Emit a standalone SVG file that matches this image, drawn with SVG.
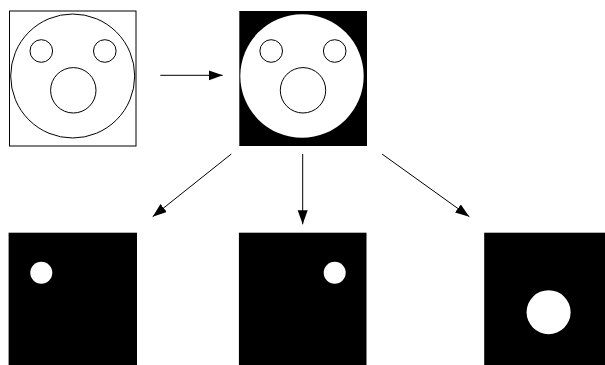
<svg xmlns="http://www.w3.org/2000/svg" width="605" height="365" viewBox="0 0 605 365">
  <style>
    .frame { fill: #ffffff; stroke: #000000; stroke-width: 1; }
    .outline { fill: none; stroke: #000000; stroke-width: 1; }
    .mask { fill: #000000; }
    .hole { fill: #ffffff; }
    .conn { stroke: #000000; stroke-width: 1; fill: none; marker-end: url(#head); }
  </style>
  <defs>
    <marker id="head" markerUnits="userSpaceOnUse" markerWidth="16" markerHeight="12" refX="14" refY="5" orient="auto">
      <path d="M0,0 L14,5 L0,10 Z" fill="#000000"/>
    </marker>
  </defs>

  <!-- source drawing: face outline -->
  <g id="source" transform="translate(9.5,11)">
    <rect class="frame" x="0" y="0" width="126.5" height="135"/>
    <circle class="outline" cx="63.2" cy="65" r="62"/>
    <circle class="outline" cx="31.8" cy="40" r="11.3"/>
    <circle class="outline" cx="95.3" cy="40" r="11.3"/>
    <circle class="outline" cx="63.8" cy="79.3" r="22.7"/>
  </g>

  <!-- filled face region -->
  <g id="face-mask" transform="translate(239.3,11)">
    <rect class="mask" x="0" y="0" width="127.7" height="135"/>
    <circle class="hole" cx="62.7" cy="65" r="61.7"/>
    <circle class="outline" cx="31.9" cy="40" r="11.3"/>
    <circle class="outline" cx="95.4" cy="40" r="11.3"/>
    <circle class="outline" cx="63.7" cy="79.3" r="22.7"/>
  </g>

  <!-- extracted parts -->
  <g id="left-eye" transform="translate(8.6,232.7)">
    <rect class="mask" x="0" y="0" width="128.4" height="135"/>
    <circle class="hole" cx="32.7" cy="40" r="11"/>
  </g>
  <g id="right-eye" transform="translate(238.9,232.7)">
    <rect class="mask" x="0" y="0" width="127.6" height="135"/>
    <circle class="hole" cx="95.8" cy="40" r="11"/>
  </g>
  <g id="mouth" transform="translate(484.2,232.7)">
    <rect class="mask" x="0" y="0" width="128" height="135"/>
    <circle class="hole" cx="64.4" cy="79.5" r="22"/>
  </g>

  <g id="connectors">
    <line class="conn" x1="160.3" y1="75.3" x2="222.7" y2="75.3"/>
    <line class="conn" x1="231.3" y1="154" x2="152.7" y2="216.7"/>
    <line class="conn" x1="302.7" y1="154" x2="302.7" y2="224.3"/>
    <line class="conn" x1="382" y1="154" x2="469.3" y2="216.7"/>
  </g>
</svg>
